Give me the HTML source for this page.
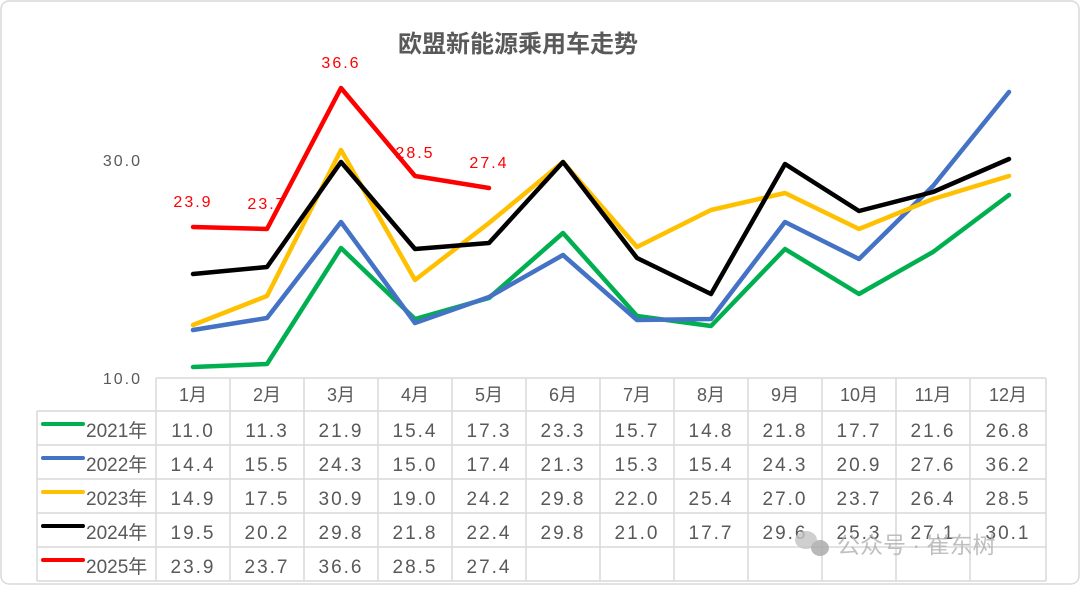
<!DOCTYPE html>
<html><head><meta charset="utf-8"><style>
body{margin:0;background:#fff}
svg text{font-family:"Liberation Sans","Noto Sans CJK SC",sans-serif}
</style></head><body>
<svg width="1080" height="585" viewBox="0 0 1080 585" xmlns="http://www.w3.org/2000/svg">
<rect x="1" y="1" width="1078" height="583" rx="8" fill="#fff" stroke="#d9d9d9" stroke-width="1.5"/>
<text x="518" y="52" text-anchor="middle" font-size="24" font-weight="bold" fill="#595959">欧盟新能源乘用车走势</text>
<text x="142" y="166" text-anchor="end" font-size="16" fill="#595959" letter-spacing="2">30.0</text>
<text x="142" y="384" text-anchor="end" font-size="16" fill="#595959" letter-spacing="2">10.0</text>
<g fill="none" stroke-width="4.5" stroke-linejoin="round" stroke-linecap="round">
<polyline stroke="#00b050" points="193,367 267,364 341,248 415,319 489,298 563,233 637,316 711,326 785,249 859,294 933,252 1009,195"/>
<polyline stroke="#4472c4" points="193,330 267,318 341,222 415,323 489,297 563,255 637,320 711,319 785,222 859,259 933,186 1009,92"/>
<polyline stroke="#ffc000" points="193,325 267,296 341,150 415,280 489,223 563,162 637,247 711,210 785,193 859,229 933,199 1009,176"/>
<polyline stroke="#000" points="193,274 267,267 341,162 415,249 489,243 563,162 637,258 711,294 785,164 859,211 933,192 1009,159"/>
<polyline stroke="#ff0000" points="193,227 267,229 341,88 415,176 489,188"/>
</g>
<g fill="#ff0000" font-size="16" text-anchor="middle" letter-spacing="2">
<text x="193" y="207">23.9</text><text x="267" y="209">23.7</text><text x="341" y="68">36.6</text><text x="415" y="158">28.5</text><text x="489" y="168">27.4</text>
</g>
<g stroke="#d9d9d9" stroke-width="1.5" fill="none">
<line x1="156" y1="378" x2="1046" y2="378"/>
<line x1="37" y1="411" x2="1046" y2="411"/>
<line x1="37" y1="445" x2="1046" y2="445"/>
<line x1="37" y1="479" x2="1046" y2="479"/>
<line x1="37" y1="513" x2="1046" y2="513"/>
<line x1="37" y1="547" x2="1046" y2="547"/>
<line x1="37" y1="581" x2="1046" y2="581"/>
<line x1="37" y1="411" x2="37" y2="581"/>
<line x1="156" y1="378" x2="156" y2="581"/>
<line x1="230" y1="378" x2="230" y2="581"/><line x1="304" y1="378" x2="304" y2="581"/><line x1="378" y1="378" x2="378" y2="581"/><line x1="452" y1="378" x2="452" y2="581"/><line x1="526" y1="378" x2="526" y2="581"/><line x1="600" y1="378" x2="600" y2="581"/><line x1="674" y1="378" x2="674" y2="581"/><line x1="748" y1="378" x2="748" y2="581"/><line x1="822" y1="378" x2="822" y2="581"/><line x1="896" y1="378" x2="896" y2="581"/><line x1="970" y1="378" x2="970" y2="581"/><line x1="1046" y1="378" x2="1046" y2="581"/>
</g>
<g stroke-width="4" stroke-linecap="round">
<line x1="43" y1="424" x2="83" y2="424" stroke="#00b050"/>
<line x1="43" y1="458" x2="83" y2="458" stroke="#4472c4"/>
<line x1="43" y1="492" x2="83" y2="492" stroke="#ffc000"/>
<line x1="43" y1="526" x2="83" y2="526" stroke="#000"/>
<line x1="43" y1="560" x2="83" y2="560" stroke="#ff0000"/>
</g>
<g fill="#595959" font-size="19">
<text x="86" y="437">2021年</text><text x="86" y="471">2022年</text><text x="86" y="505">2023年</text><text x="86" y="539">2024年</text><text x="86" y="573">2025年</text>
</g>
<g fill="#595959" font-size="18" text-anchor="middle">
<text x="193" y="401">1月</text><text x="267" y="401">2月</text><text x="341" y="401">3月</text><text x="415" y="401">4月</text><text x="489" y="401">5月</text><text x="563" y="401">6月</text><text x="637" y="401">7月</text><text x="711" y="401">8月</text><text x="785" y="401">9月</text><text x="859" y="401">10月</text><text x="933" y="401">11月</text><text x="1008" y="401">12月</text>
</g>
<g fill="#595959" font-size="19" text-anchor="middle" letter-spacing="2">
<text y="437"><tspan x="193">11.0</tspan><tspan x="267">11.3</tspan><tspan x="341">21.9</tspan><tspan x="415">15.4</tspan><tspan x="489">17.3</tspan><tspan x="563">23.3</tspan><tspan x="637">15.7</tspan><tspan x="711">14.8</tspan><tspan x="785">21.8</tspan><tspan x="859">17.7</tspan><tspan x="933">21.6</tspan><tspan x="1008">26.8</tspan></text>
<text y="471"><tspan x="193">14.4</tspan><tspan x="267">15.5</tspan><tspan x="341">24.3</tspan><tspan x="415">15.0</tspan><tspan x="489">17.4</tspan><tspan x="563">21.3</tspan><tspan x="637">15.3</tspan><tspan x="711">15.4</tspan><tspan x="785">24.3</tspan><tspan x="859">20.9</tspan><tspan x="933">27.6</tspan><tspan x="1008">36.2</tspan></text>
<text y="505"><tspan x="193">14.9</tspan><tspan x="267">17.5</tspan><tspan x="341">30.9</tspan><tspan x="415">19.0</tspan><tspan x="489">24.2</tspan><tspan x="563">29.8</tspan><tspan x="637">22.0</tspan><tspan x="711">25.4</tspan><tspan x="785">27.0</tspan><tspan x="859">23.7</tspan><tspan x="933">26.4</tspan><tspan x="1008">28.5</tspan></text>
<text y="539"><tspan x="193">19.5</tspan><tspan x="267">20.2</tspan><tspan x="341">29.8</tspan><tspan x="415">21.8</tspan><tspan x="489">22.4</tspan><tspan x="563">29.8</tspan><tspan x="637">21.0</tspan><tspan x="711">17.7</tspan><tspan x="785">29.6</tspan><tspan x="859">25.3</tspan><tspan x="933">27.1</tspan><tspan x="1008">30.1</tspan></text>
<text y="573"><tspan x="193">23.9</tspan><tspan x="267">23.7</tspan><tspan x="341">36.6</tspan><tspan x="415">28.5</tspan><tspan x="489">27.4</tspan></text>
</g>
<g opacity="0.8">
<ellipse cx="806" cy="540" rx="11" ry="9" fill="#c4c4c4"/>
<ellipse cx="820" cy="548" rx="9" ry="8" fill="#a8a8a8"/>
<text x="837" y="553" font-size="23" fill="#b0b0b0">公众号 · 崔东树</text>
</g>
</svg>
</body></html>
